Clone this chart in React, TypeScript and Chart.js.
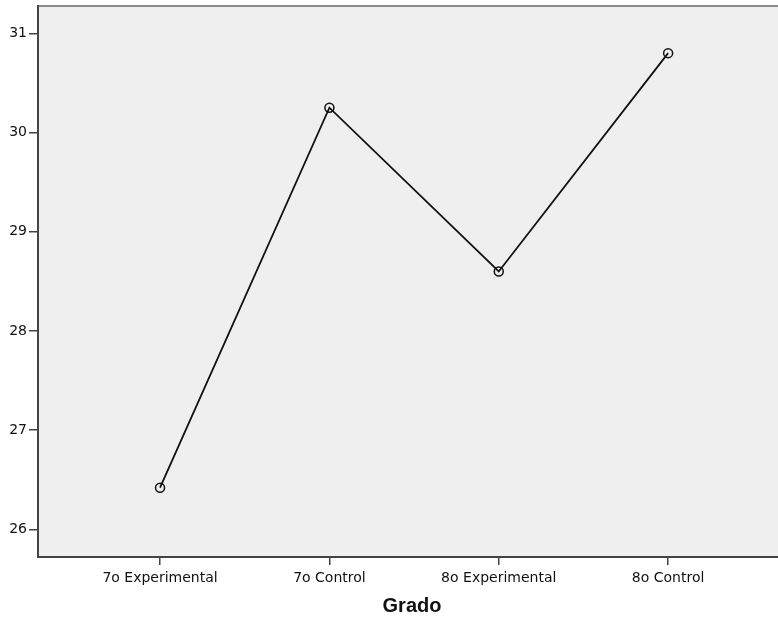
import React, { useEffect, useRef } from "react";
import { Chart, registerables } from "chart.js";

Chart.register(...registerables);

const categories = ["7o Experimental", "7o Control", "8o Experimental", "8o Control"];
const means = [26.42, 30.25, 28.6, 30.8];
const yTicks = [26, 27, 28, 29, 30, 31];
const xTitle = "Grado";

const framePlugin = {
  id: "frame",
  beforeDraw(chart: any) {
    const { ctx, chartArea } = chart;
    ctx.save();
    ctx.fillStyle = "#efefef";
    ctx.fillRect(chartArea.left, chartArea.top, chartArea.right - chartArea.left, chartArea.bottom - chartArea.top);
    ctx.strokeStyle = "#8a8a8a";
    ctx.lineWidth = 2;
    ctx.beginPath();
    ctx.moveTo(chartArea.left, chartArea.top);
    ctx.lineTo(chartArea.right, chartArea.top);
    ctx.stroke();
    ctx.restore();
  },
};

export default function App() {
  const ref = useRef<HTMLCanvasElement | null>(null);
  useEffect(() => {
    if (!ref.current) return;
    const chart = new Chart(ref.current, {
      type: "line",
      data: {
        datasets: [
          {
            data: means.map((v, i) => ({ x: i, y: v })),
            borderColor: "#111",
            borderWidth: 1.8,
            pointRadius: 4.5,
            pointBorderWidth: 1.5,
            pointBorderColor: "#111",
            pointBackgroundColor: "rgba(0,0,0,0)",
            tension: 0,
          },
        ],
      },
      options: {
        animation: false,
        responsive: false,
        devicePixelRatio: 1,
        layout: { padding: { top: 6, left: 0, right: 0, bottom: 0 } },
        plugins: { legend: { display: false }, tooltip: { enabled: false } },
        scales: {
          x: {
            type: "linear",
            min: -0.7206,
            max: 3.696,
            afterBuildTicks: (s: any) => {
              s.ticks = categories.map((_, i) => ({ value: i }));
            },
            afterFit: (s: any) => {
              s.height = 61;
              s.paddingLeft = 0;
              s.paddingRight = 0;
            },
            ticks: {
              callback: (v: any) => categories[Math.round(Number(v))] ?? "",
              font: { family: "DejaVu Sans", size: 14 },
              color: "#111",
              padding: 5,
              maxRotation: 0,
              autoSkip: false,
            },
            grid: { drawOnChartArea: false, drawTicks: true, tickLength: 8, color: "#444", lineWidth: 1.5 },
            border: { display: true, color: "#444", width: 2 },
            title: {
              display: true,
              text: xTitle,
              font: { family: "Liberation Sans", size: 20, weight: "bold" },
              color: "#111",
              padding: { top: 0, bottom: 0 },
            },
          },
          y: {
            type: "linear",
            min: 25.722,
            max: 31.275,
            afterBuildTicks: (s: any) => {
              s.ticks = yTicks.map((v) => ({ value: v }));
            },
            afterFit: (s: any) => {
              s.width = 38;
              s.paddingTop = 0;
              s.paddingBottom = 0;
            },
            ticks: {
              font: { family: "DejaVu Sans", size: 14 },
              color: "#111",
              padding: 2,
            },
            grid: { drawOnChartArea: false, drawTicks: true, tickLength: 9, color: "#444", lineWidth: 1.5 },
            border: { display: true, color: "#444", width: 2 },
          },
        },
      },
      plugins: [framePlugin],
    });
    return () => chart.destroy();
  }, []);
  return (
    <div style={{ position: "absolute", left: 0, top: 0, width: 778, height: 618, overflow: "hidden", background: "#fff" }}>
      <canvas ref={ref} width={792} height={618} style={{ display: "block" }} />
    </div>
  );
}
